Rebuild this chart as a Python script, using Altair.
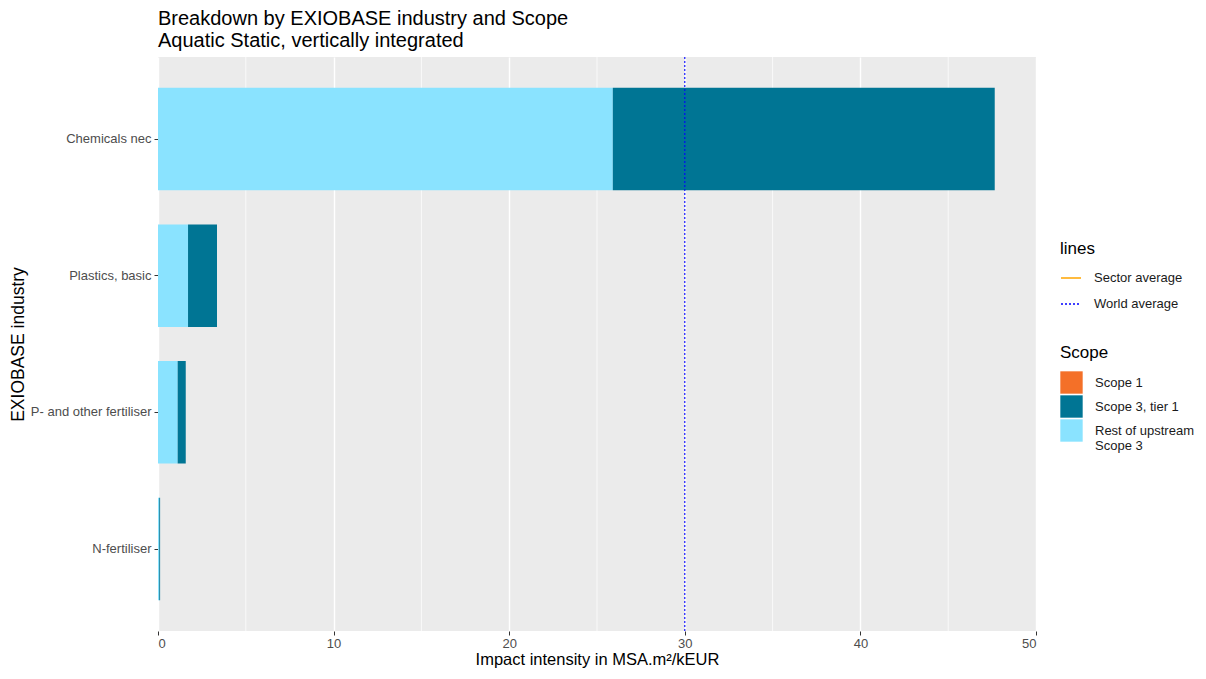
import altair as alt
import pandas as pd

industries = ["Chemicals nec", "Plastics, basic", "P- and other fertiliser", "N-fertiliser"]
rest_upstream = [25.9, 1.71, 1.12, 0.07]
scope3_tier1 = [21.75, 1.65, 0.46, 0.05]
scope1 = [0.0, 0.0, 0.0, 0.0]

scopes = ["Scope 1", "Scope 3, tier 1", "Rest of upstream Scope 3"]
scope_colors = ["#F47028", "#007594", "#8AE3FF"]
line_names = ["Sector average", "World average"]
line_colors = ["#FFA500", "#0000FF"]
line_values = [None, 30]
minor_ticks = [5, 15, 25, 35, 45]
x_ticks = [0, 10, 20, 30, 40, 50]

rows = []
for i, ind in enumerate(industries):
    for order, (scope, vals) in enumerate(
        [("Rest of upstream Scope 3", rest_upstream), ("Scope 3, tier 1", scope3_tier1), ("Scope 1", scope1)]
    ):
        if vals[i] > 0:
            rows.append({"industry": ind, "scope": scope, "value": vals[i], "ord": order})
df = pd.DataFrame(rows)

FONT = "Liberation Sans"

x_scale = alt.Scale(domain=[0, 50], nice=False, zero=True)

minor = alt.Chart(pd.DataFrame({"x": minor_ticks})).mark_rule(
    color="white", strokeWidth=0.7
).encode(x=alt.X("x:Q", scale=x_scale))

bars = alt.Chart(df).mark_bar().encode(
    x=alt.X(
        "value:Q",
        scale=x_scale,
        stack="zero",
        axis=alt.Axis(values=x_ticks, title="Impact intensity in MSA.m²/kEUR",
                      titlePadding=1, titleFontSize=16.5, labelPadding=2),
    ),
    y=alt.Y(
        "industry:N",
        sort=industries,
        scale=alt.Scale(paddingInner=0.25, paddingOuter=0.225),
        axis=alt.Axis(title="EXIOBASE industry", bandPosition=0.5, titlePadding=3),
    ),
    fill=alt.Fill(
        "scope:N",
        scale=alt.Scale(domain=scopes, range=scope_colors),
        legend=alt.Legend(
            title="Scope",
            orient="none",
            legendX=902,
            legendY=288,
            symbolType="square",
            symbolSize=500,
            symbolStrokeWidth=0,
            labelExpr="datum.label == 'Rest of upstream Scope 3' ? ['Rest of upstream', 'Scope 3'] : datum.label",
            rowPadding=1,
            labelOffset=12,
        ),
    ),
    order=alt.Order("ord:Q"),
)

legend_lines = dict(
    title="lines",
    orient="none",
    legendX=902,
    legendY=184,
    symbolType="stroke",
    symbolSize=400,
    symbolStrokeWidth=1.3,
    rowPadding=8,
    labelOffset=12,
)

lines_df = pd.DataFrame({"x": line_values, "line": line_names})
world = alt.Chart(lines_df).mark_rule(strokeWidth=1.1).encode(
    x=alt.X("x:Q", scale=x_scale),
    stroke=alt.Stroke("line:N", scale=alt.Scale(domain=line_names, range=line_colors), legend=alt.Legend(**legend_lines)),
    strokeDash=alt.StrokeDash("line:N", scale=alt.Scale(domain=line_names, range=[[6, 0], [2, 2]]), legend=alt.Legend(**legend_lines)),
)

chart = alt.layer(minor, bars, world).resolve_legend(fill="independent").properties(
    width=878,
    height=574,
    autosize=alt.AutoSizeParams(type="none"),
    padding={"left": 150, "top": 49, "right": 160, "bottom": 40},
    title=alt.TitleParams(
        ["Breakdown by EXIOBASE industry and Scope", "Aquatic Static, vertically integrated"],
        anchor="start",
        frame="group",
        fontSize=20,
        font=FONT,
        fontWeight="normal",
        color="black",
        offset=5,
        lineHeight=22,
    ),
).configure_view(
    fill="#EBEBEB", strokeWidth=0
).configure_axis(
    gridColor="white",
    gridWidth=1.4,
    domain=False,
    tickColor="#333333",
    tickSize=4,
    labelColor="#4D4D4D",
    labelFont=FONT,
    labelFontSize=13,
    labelPadding=3,
    titleFont=FONT,
    titleFontSize=17.5,
    titleColor="black",
    titleFontWeight="normal",
).configure_legend(
    titleFont=FONT,
    titleFontSize=17,
    titleFontWeight="normal",
    titleColor="black",
    labelFont=FONT,
    labelFontSize=13,
    labelColor="#1A1A1A",
    titlePadding=9,
    padding=0,
)

chart.save("out.html", embed_options={"renderer": "svg", "actions": False})
